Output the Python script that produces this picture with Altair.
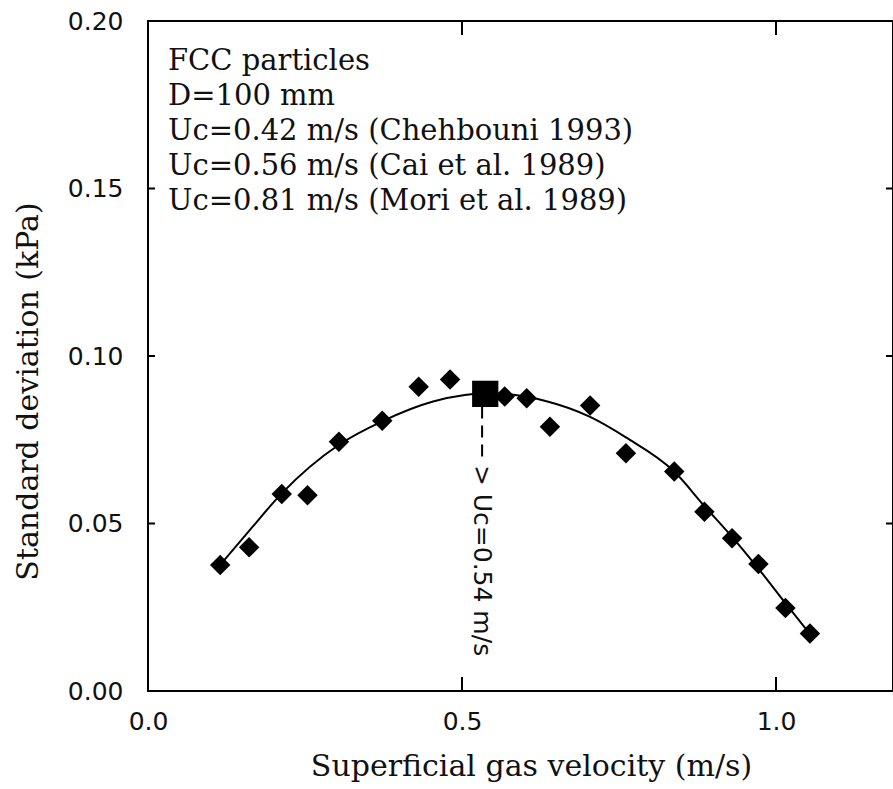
import altair as alt
import pandas as pd

# ---- data ----
point_vel = [0.115, 0.161, 0.213, 0.254, 0.304, 0.373, 0.431, 0.481, 0.568, 0.603,
             0.640, 0.704, 0.761, 0.838, 0.886, 0.930, 0.972, 1.015, 1.054]
point_std = [0.0376, 0.0429, 0.0588, 0.0584, 0.0744, 0.0807, 0.0908, 0.0930, 0.0879, 0.0874,
             0.0789, 0.0852, 0.0710, 0.0655, 0.0535, 0.0456, 0.0379, 0.0248, 0.0172]
uc_vel = [0.537]
uc_std = [0.0887]

fit_vel = [0.117, 0.161, 0.213, 0.304, 0.373, 0.454, 0.507, 0.534, 0.582,
           0.630, 0.704, 0.761, 0.838, 0.886, 0.930, 0.972, 1.015, 1.051]
fit_std = [0.0381, 0.0478, 0.0590, 0.0735, 0.0805, 0.0864, 0.0884, 0.0889, 0.0884,
           0.0867, 0.0818, 0.0757, 0.0655, 0.0552, 0.0460, 0.0365, 0.0262, 0.0177]

arrow_x = [0.532]
arrow_top = [0.0849]
arrow_bottom = [0.0690]
arrow_label_y = [0.0675]
arrow_label = ["> Uc=0.54 m/s"]

legend_lines = [
    "FCC particles",
    "D=100 mm",
    "Uc=0.42 m/s (Chehbouni 1993)",
    "Uc=0.56 m/s (Cai et al. 1989)",
    "Uc=0.81 m/s (Mori et al. 1989)",
]

x_tick_values = [0.0, 0.5, 1.0]
y_tick_values = [0.0, 0.05, 0.10, 0.15, 0.20]
x_inner_ticks = [0.5, 1.0]
y_inner_ticks = [0.05, 0.10, 0.15]

X_MAX = 1.1863
W, H = 745, 670

xs = alt.Scale(domain=[0, X_MAX], nice=False, zero=False)
ys = alt.Scale(domain=[0, 0.2], nice=False, zero=False)

x_axis = alt.Axis(values=x_tick_values, format=".1f", labelPadding=18, labelFlush=False,
                  labelOverlap=False, title="Superficial gas velocity (m/s)",
                  titleX=383, titleY=84, titleBaseline="alphabetic", titleAlign="center")
y_axis = alt.Axis(values=y_tick_values, format=".2f", labelPadding=25, labelFlush=False,
                  labelOverlap=False, title="Standard deviation (kPa)",
                  titleAngle=270, titleX=-111, titleY=370, titleBaseline="alphabetic",
                  titleAlign="center")

pts = pd.DataFrame({"x": point_vel, "y": point_std})
ucp = pd.DataFrame({"x": uc_vel, "y": uc_std})
fit = pd.DataFrame({"x": fit_vel, "y": fit_std})
arr = pd.DataFrame({"x": arrow_x, "y": arrow_top, "y2": arrow_bottom,
                    "ly": arrow_label_y, "t": arrow_label})
leg = pd.DataFrame({"t": ["\n".join(legend_lines)]})
xt = pd.DataFrame({"x": x_inner_ticks})
yt = pd.DataFrame({"y": y_inner_ticks})

line = alt.Chart(fit).mark_line(color="black", strokeWidth=2, interpolate="monotone").encode(
    x=alt.X("x:Q", scale=xs, axis=x_axis),
    y=alt.Y("y:Q", scale=ys, axis=y_axis),
)

diamonds = alt.Chart(pts).mark_point(shape="diamond", filled=True, color="black",
                                     size=420, opacity=1).encode(
    x=alt.X("x:Q", scale=xs), y=alt.Y("y:Q", scale=ys))

square = alt.Chart(ucp).mark_point(shape="square", filled=True, color="black",
                                   size=690, opacity=1).encode(
    x=alt.X("x:Q", scale=xs), y=alt.Y("y:Q", scale=ys))

dash = alt.Chart(arr).mark_rule(color="black", strokeWidth=2, strokeDash=[12, 7]).encode(
    x=alt.X("x:Q", scale=xs), y=alt.Y("y:Q", scale=ys), y2="y2:Q")

arrow_text = alt.Chart(arr).mark_text(angle=90, align="left", baseline="middle",
                                      font="DejaVu Sans", fontSize=25, color="#111").encode(
    x=alt.X("x:Q", scale=xs), y=alt.Y("ly:Q", scale=ys), text="t:N")

legend_text = alt.Chart(leg).mark_text(align="left", baseline="alphabetic",
                                       font="DejaVu Serif", fontSize=29, lineBreak="\n",
                                       lineHeight=35, color="#111").encode(
    x=alt.value(20), y=alt.value(49), text="t:N")

tick_bottom = alt.Chart(xt).mark_rule(color="black", strokeWidth=2).encode(
    x=alt.X("x:Q", scale=xs), y=alt.value(H), y2=alt.value(H - 14))
tick_top = alt.Chart(xt).mark_rule(color="black", strokeWidth=2).encode(
    x=alt.X("x:Q", scale=xs), y=alt.value(0), y2=alt.value(14))
tick_left = alt.Chart(yt).mark_rule(color="black", strokeWidth=2).encode(
    y=alt.Y("y:Q", scale=ys), x=alt.value(0), x2=alt.value(7))
tick_right = alt.Chart(yt).mark_rule(color="black", strokeWidth=2).encode(
    y=alt.Y("y:Q", scale=ys), x=alt.value(W), x2=alt.value(W - 7))

chart = alt.layer(
    line, diamonds, square, dash, arrow_text, legend_text,
    tick_bottom, tick_top, tick_left, tick_right,
).properties(
    width=W, height=H,
    autosize=alt.AutoSizeParams(type="none"),
    padding={"left": 148, "top": 21, "right": 0, "bottom": 98},
    background="white",
).configure_view(
    stroke="black", strokeWidth=2,
).configure_axis(
    grid=False, domain=False, ticks=False, tickSize=0,
    labelFont="DejaVu Sans", labelFontSize=25, labelColor="#111",
    titleFont="DejaVu Serif", titleFontSize=30, titleFontWeight="normal", titleColor="#111",
)

chart.save("out.html", embed_options={"renderer": "svg", "actions": False})
